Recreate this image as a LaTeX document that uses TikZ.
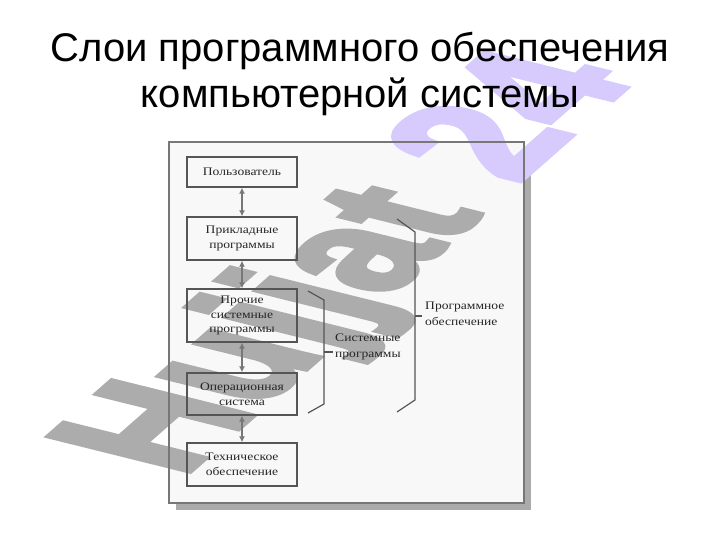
\documentclass[tikz,border=0pt]{standalone}
\usepackage{fontspec}
\setmainfont{Liberation Sans}
\newfontfamily\diafont[FakeStretch=1.18]{Liberation Serif}
\newfontfamily\wmfont[FakeBold=3.5]{Liberation Sans}
\usetikzlibrary{arrows.meta}
\definecolor{framefill}{HTML}{F8F8F8}
\definecolor{frameline}{HTML}{777777}
\definecolor{shadowc}{HTML}{ABABAB}
\definecolor{boxline}{HTML}{555555}
\definecolor{diatext}{HTML}{262626}
\definecolor{arrc}{HTML}{777777}
\definecolor{wmgrey}{RGB}{172,172,172}
\definecolor{wmlav}{RGB}{214,203,252}
\tikzset{
  layerbox/.style={draw=boxline, line width=1.4pt, minimum width=110pt, inner sep=0pt,
    align=center, text=diatext, font=\diafont\fontsize{11.5}{14.5}\selectfont},
  duparrow/.style={draw=arrc, line width=1.4pt, {Latex[length=6pt,width=6pt]}-{Latex[length=6pt,width=6pt]}},
  brack/.style={draw=boxline, line width=1.2pt},
  bracklabel/.style={anchor=west, align=left, inner sep=0pt, text=diatext, font=\diafont\fontsize{11.5}{15.5}\selectfont},
  titletext/.style={align=center, inner sep=0pt, font=\fontsize{40}{46}\selectfont}
}
\begin{document}
\begin{tikzpicture}[x=1pt,y=-1pt]
\useasboundingbox (0,0) rectangle (720,540);
\fill[white] (0,0) rectangle (720,540);
% frame background
\fill[shadowc] (176,149) rectangle (531,510);
\fill[framefill] (169,142) rectangle (524,503);
% watermark (under the drawing's lines and texts)
\begin{scope}[xscale=2.14]
\node[anchor=base west, rotate=62, transform shape, inner sep=0pt,
  font=\wmfont\bfseries\fontsize{108}{108}\selectfont] (wm) at (85,478)
  {\textcolor{wmgrey}{Hujjat}\hspace{0.3em}\textcolor{wmlav}{24}};
\end{scope}
% title
\node[titletext, anchor=base] (t1) at (360,62) {Слои программного обеспечения};
\node[titletext, anchor=base] (t2) at (360,108) {компьютерной системы};
% frame border
\draw[draw=frameline, line width=1.2pt] (169,142) rectangle (524,503);
% boxes
\node[layerbox, minimum height=30pt] (b1) at (242,172) {Пользователь};
\node[layerbox, minimum height=43pt] (b2) at (242,238.5) {Прикладные\\программы};
\node[layerbox, minimum height=53pt] (b3) at (242,315.5) {Прочие\\системные\\программы};
\node[layerbox, minimum height=42pt] (b4) at (242,394) {Операционная\\система};
\node[layerbox, minimum height=43pt] (b5) at (242,464.5) {Техническое\\обеспечение};
\draw[duparrow] (b1.south) -- (b2.north);
\draw[duparrow] (b2.south) -- (b3.north);
\draw[duparrow] (b3.south) -- (b4.north);
\draw[duparrow] (b4.south) -- (b5.north);
% small bracket
\coordinate (s1) at (308,291);
\coordinate (s2) at (324,300);
\coordinate (s3) at (324,404);
\coordinate (s4) at (308,413);
\coordinate (sm) at (324,352);
\coordinate (st) at (333,352);
\draw[brack] (s1) -- (s2) -- (s3) -- (s4);
\draw[brack] (sm) -- (st);
\node[bracklabel] (sl) at (335,347) {Системные\\программы};
% big bracket
\coordinate (p1) at (397,219);
\coordinate (p2) at (415,232);
\coordinate (p3) at (415,400);
\coordinate (p4) at (397,412);
\coordinate (pm) at (415,316);
\coordinate (pt) at (422,316);
\draw[brack] (p1) -- (p2) -- (p3) -- (p4);
\draw[brack] (pm) -- (pt);
\node[bracklabel] (pl) at (425,314) {Программное\\обеспечение};
\end{tikzpicture}
\end{document}
